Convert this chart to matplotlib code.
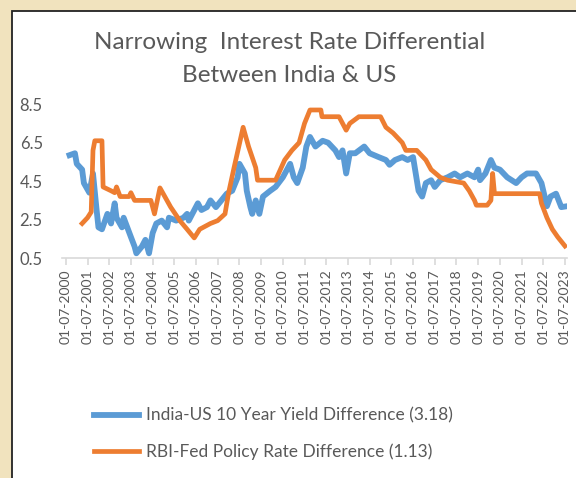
import matplotlib
matplotlib.use("Agg")
import matplotlib.pyplot as plt
import matplotlib.patches as patches
import pandas as pd

# --- data ---
yield_dates = [
    "2000-09", "2000-12", "2001-01", "2001-04", "2001-05", "2001-08", "2001-10",
    "2001-12", "2002-01", "2002-03", "2002-06", "2002-08", "2002-10", "2002-11",
    "2003-02", "2003-03", "2003-05", "2003-07", "2003-09", "2003-10", "2004-01",
    "2004-03", "2004-05", "2004-07", "2004-09", "2004-12", "2005-03", "2005-04",
    "2005-08", "2005-12", "2006-02", "2006-03", "2006-08", "2006-10", "2007-01",
    "2007-03", "2007-06", "2007-09", "2007-12", "2008-03", "2008-06", "2008-07",
    "2008-10", "2008-11", "2009-01", "2009-02", "2009-04", "2009-06", "2009-08",
    "2009-12", "2010-03", "2010-07", "2010-11", "2011-01", "2011-03", "2011-06",
    "2011-08", "2011-10", "2012-01", "2012-05", "2012-08", "2012-12", "2013-02",
    "2013-04", "2013-06", "2013-08", "2013-11", "2014-04", "2014-07", "2014-12",
    "2015-04", "2015-06", "2015-09", "2016-01", "2016-04", "2016-07", "2016-10",
    "2016-12", "2017-02", "2017-05", "2017-07", "2017-10", "2018-02", "2018-06",
    "2018-09", "2019-01", "2019-05", "2019-07", "2019-08", "2019-11", "2020-02",
    "2020-04", "2020-07", "2020-11", "2021-04", "2021-07", "2021-10", "2022-03",
    "2022-06", "2022-09", "2022-11", "2023-02", "2023-05", "2023-07",
]
yield_diff = [
    5.85, 5.95, 5.4, 5.1, 4.4, 3.9, 4.9,
    3.0, 2.1, 2.0, 2.8, 2.3, 3.35, 2.6,
    2.1, 2.6, 2.1, 1.6, 1.1, 0.75, 1.1,
    1.45, 0.75, 1.8, 2.3, 2.45, 2.1, 2.6,
    2.45, 2.6, 2.8, 2.45, 3.35, 3.0, 3.15,
    3.5, 3.15, 3.5, 3.85, 4.0, 4.7, 5.4,
    4.9, 4.0, 3.15, 2.8, 3.5, 2.8, 3.7,
    4.0, 4.2, 4.7, 5.4, 4.7, 4.4, 5.2,
    6.3, 6.8, 6.3, 6.6, 6.5, 6.1, 5.75,
    6.1, 4.9, 5.95, 5.95, 6.3, 5.95, 5.75,
    5.6, 5.35, 5.6, 5.75, 5.6, 5.75, 4.0,
    3.7, 4.4, 4.55, 4.2, 4.55, 4.7, 4.9,
    4.7, 4.9, 4.7, 5.1, 4.55, 4.9, 5.6,
    5.2, 5.1, 4.7, 4.4, 4.7, 4.9, 4.9,
    4.4, 3.2, 3.7, 3.85, 3.15, 3.18,
]

policy_dates = [
    "2001-04-01", "2001-07-01", "2001-09-01", "2001-10-01", "2001-11-01", "2002-03-01", "2002-03-20",
    "2002-08-01", "2002-10-01", "2002-11-01", "2003-01-01", "2003-06-01", "2003-07-01", "2003-09-01",
    "2004-06-01", "2004-08-01", "2004-11-01", "2005-05-01", "2005-10-01", "2006-02-01", "2006-06-01",
    "2006-09-01", "2007-03-01", "2007-07-01", "2007-11-01", "2008-01-01", "2008-04-01", "2008-09-01",
    "2008-12-01", "2009-04-01", "2009-05-01", "2010-03-01", "2010-08-01", "2010-12-01", "2011-04-01",
    "2011-07-01", "2011-10-01", "2012-04-01", "2012-04-20", "2013-02-01", "2013-06-01", "2013-08-01",
    "2014-01-01", "2015-01-01", "2015-04-01", "2015-08-01", "2016-01-01", "2016-03-01", "2016-09-01",
    "2017-02-01", "2017-05-01", "2017-10-01", "2018-02-01", "2018-11-01", "2019-02-01", "2019-05-01",
    "2019-06-01", "2019-12-01", "2020-02-01", "2020-03-01", "2020-04-01", "2022-05-01", "2022-06-01",
    "2022-09-01", "2022-12-01", "2023-03-01", "2023-07-01",
]
policy_diff = [
    2.3, 2.6, 2.9, 6.1, 6.6, 6.6, 4.2,
    4.0, 3.9, 4.2, 3.7, 3.7, 3.9, 3.5,
    3.5, 2.8, 4.15, 3.15, 2.45, 2.0, 1.55,
    2.0, 2.3, 2.45, 2.8, 3.9, 5.2, 7.3,
    6.3, 5.2, 4.55, 4.55, 5.6, 6.1, 6.5,
    7.5, 8.2, 8.2, 7.85, 7.85, 7.15, 7.5,
    7.85, 7.85, 7.3, 7.0, 6.5, 6.1, 6.1,
    5.6, 5.1, 4.7, 4.55, 4.4, 4.0, 3.5,
    3.25, 3.25, 3.5, 4.9, 3.85, 3.85, 3.35,
    2.6, 2.0, 1.6, 1.13,
]

yield_label = "India-US 10 Year Yield Difference (3.18)"
policy_label = "RBI-Fed Policy Rate Difference (1.13)"
tick_years = list(range(2000, 2024))
y_ticks = [0.5, 2.5, 4.5, 6.5, 8.5]

BLUE = "#5B9BD5"
ORANGE = "#ED7D31"
GREY = "#595959"

plt.rcParams["font.family"] = ["Lato", "DejaVu Sans"]

fig = plt.figure(figsize=(5.76, 4.78), dpi=100)
fig.patch.set_facecolor("#F1E3BE")

# white chart panel with dark frame, running off the right/bottom edges
panel = patches.Rectangle((0.021, -0.1), 1.2, 1.077, transform=fig.transFigure,
                          facecolor="white", edgecolor="#222222", linewidth=1.3,
                          zorder=-5)
fig.patches.append(panel)

ax = fig.add_axes([0.108, 0.46, 0.876, 0.322])
ax.set_zorder(2)
ax.set_facecolor("none")

ax.plot(pd.to_datetime(yield_dates, format="mixed"), yield_diff, color=BLUE, lw=4.2,
        solid_joinstyle="round", label=yield_label, zorder=2)
ax.plot(pd.to_datetime(policy_dates, format="mixed"), policy_diff, color=ORANGE, lw=3.4,
        solid_joinstyle="round", label=policy_label, zorder=3)

ax.set_ylim(0.5, 8.5)
ax.set_yticks(y_ticks)
ax.set_yticklabels([f"{v:.1f}" for v in y_ticks])
ax.set_xlim(pd.Timestamp("2000-05-01"), pd.Timestamp("2023-08-01"))
xt = [pd.Timestamp(f"{y}-07-01") for y in tick_years]
ax.set_xticks(xt)
ax.set_xticklabels([t.strftime("%d-%m-%Y") for t in xt], rotation=90)

for s in ["top", "right", "left"]:
    ax.spines[s].set_visible(False)
ax.spines["bottom"].set_color("#D9D9D9")
ax.spines["bottom"].set_linewidth(1.2)
ax.tick_params(axis="y", length=0, labelsize=12, labelcolor=GREY, pad=14)
ax.tick_params(axis="x", length=5, color="#D9D9D9", width=1.2,
               labelsize=10, labelcolor=GREY, pad=3)

fig.text(0.502, 0.912, "Narrowing  Interest Rate Differential", ha="center",
         va="center", fontsize=17.5, color=GREY)
fig.text(0.502, 0.843, "Between India & US", ha="center", va="center",
         fontsize=17.5, color=GREY)

fig.legend(loc="upper left", bbox_to_anchor=(0.151, 0.162), frameon=False,
           fontsize=12.5, labelcolor=GREY, handlelength=2.6, handletextpad=0.4,
           labelspacing=1.15, borderaxespad=0)

fig.savefig("out.png", dpi=100, facecolor=fig.get_facecolor())
